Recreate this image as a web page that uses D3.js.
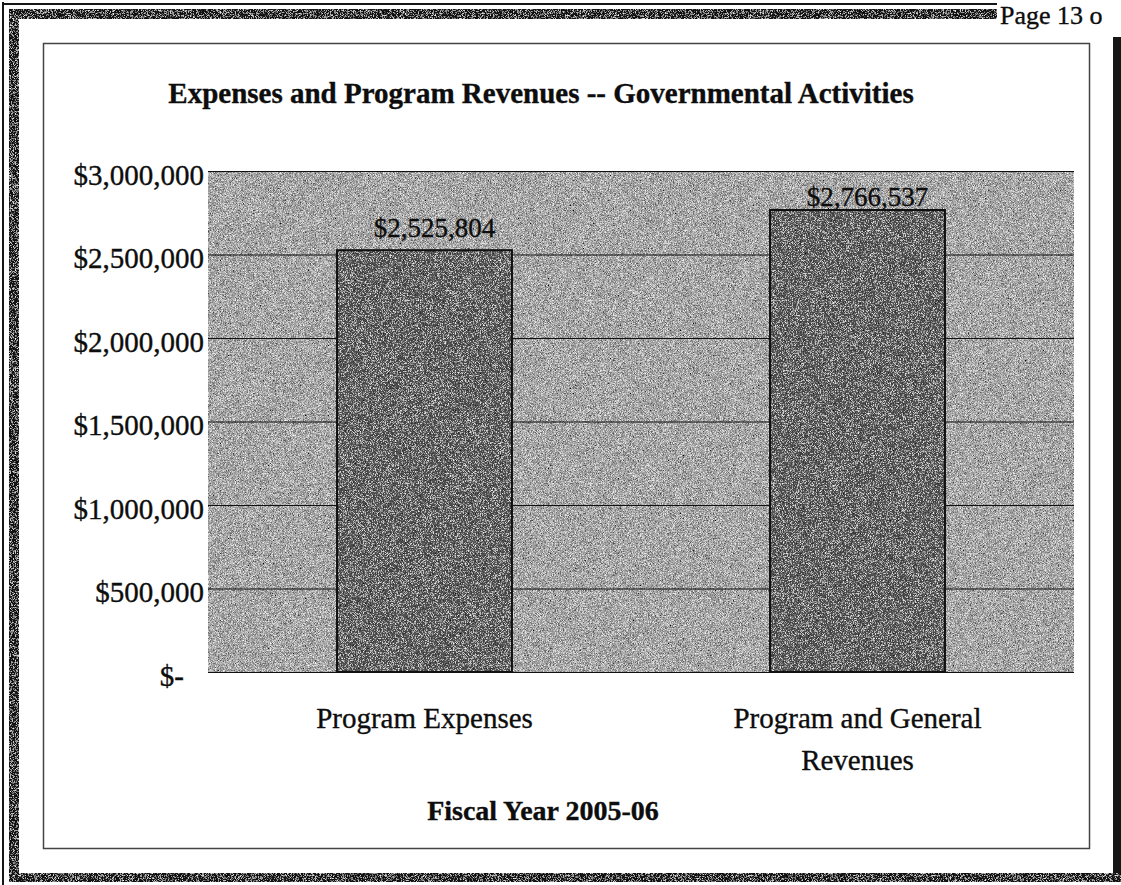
<html>
<head>
    <title>Expenses and Program Revenues</title>
    <style>
        body { margin: 0; background: #fff; }
        svg text { font-family: "Liberation Serif", "Times New Roman", serif; fill: #0d0d0d; stroke: #0d0d0d; stroke-width: 0.35px; }
    </style>
</head>
<body>
    <svg></svg>
    <script src="https://d3js.org/d3.v7.min.js"></script>
    <script>
        // chart values
        const categories = ["Program Expenses", "Program and General Revenues"];
        const categoryLines = [["Program Expenses"], ["Program and General", "Revenues"]];
        const amounts = [2525804, 2766537];
        const amountLabels = ["$2,525,804", "$2,766,537"];
        const yTicks = [0, 500000, 1000000, 1500000, 2000000, 2500000, 3000000];
        const yTickLabels = ["$-", "$500,000", "$1,000,000", "$1,500,000", "$2,000,000", "$2,500,000", "$3,000,000"];
        const chartTitle = "Expenses and Program Revenues -- Governmental Activities";
        const axisTitle = "Fiscal Year 2005-06";
        const pageLabel = "Page 13 o";

        const width = 1121;
        const height = 885;
        const plot = {left: 208, right: 1074, top: 171, bottom: 672};

        const svg = d3.select("svg")
            .attr("width", width)
            .attr("height", height);

        // scanned-paper grain
        const defs = svg.append("defs");
        const grain = defs.append("filter")
            .attr("id", "grain")
            .attr("x", 0).attr("y", 0).attr("width", "100%").attr("height", "100%");
        grain.append("feTurbulence")
            .attr("type", "fractalNoise")
            .attr("baseFrequency", 1.4)
            .attr("numOctaves", 1)
            .attr("seed", 4)
            .attr("result", "noise");
        grain.append("feColorMatrix")
            .attr("in", "noise")
            .attr("type", "matrix")
            .attr("values", "1 0 0 0 0  1 0 0 0 0  1 0 0 0 0  0 0 0 0 1")
            .attr("result", "grey");
        const ct = grain.append("feComponentTransfer").attr("in", "grey").attr("result", "contrast");
        ["feFuncR", "feFuncG", "feFuncB"].forEach(f =>
            ct.append(f).attr("type", "linear").attr("slope", 1.6).attr("intercept", -0.3));
        grain.append("feBlend")
            .attr("in", "SourceGraphic")
            .attr("in2", "contrast")
            .attr("mode", "overlay")
            .attr("result", "blend");
        grain.append("feComposite")
            .attr("in", "blend")
            .attr("in2", "SourceGraphic")
            .attr("operator", "in");

        // page frame
        const frame = svg.append("g").attr("fill", "#161616");
        frame.append("rect").attr("x", 2).attr("y", 2).attr("width", 2).attr("height", 883);
        frame.append("rect").attr("x", 2).attr("y", 3).attr("width", 995).attr("height", 2);
        frame.append("rect").attr("x", 9).attr("y", 9).attr("width", 10).attr("height", 873).attr("filter", "url(#grain)");
        frame.append("rect").attr("x", 9).attr("y", 9).attr("width", 988).attr("height", 10).attr("filter", "url(#grain)");
        frame.append("rect").attr("x", 1113).attr("y", 37).attr("width", 8).attr("height", 845);
        frame.append("rect").attr("x", 9).attr("y", 873).attr("width", 1112).attr("height", 9).attr("filter", "url(#grain)");

        svg.append("text")
            .attr("x", 1000)
            .attr("y", 24)
            .attr("font-size", 26)
            .text(pageLabel);

        // inner chart box
        svg.append("rect")
            .attr("x", 43.5).attr("y", 43.5)
            .attr("width", 1046).attr("height", 805)
            .attr("fill", "none")
            .attr("stroke", "#444")
            .attr("stroke-width", 1.5);

        // scales
        const x = d3.scaleBand()
            .domain(categories)
            .range([plot.left, plot.right])
            .paddingInner(0.596)
            .paddingOuter(0.298);

        const y = d3.scaleLinear()
            .domain([0, 3000000])
            .range([plot.bottom, plot.top]);

        // plot background
        svg.append("rect")
            .attr("x", plot.left)
            .attr("y", plot.top)
            .attr("width", plot.right - plot.left)
            .attr("height", plot.bottom - plot.top)
            .attr("fill", "#a4a4a4")
            .attr("filter", "url(#grain)");

        // gridlines
        svg.append("g")
            .attr("transform", `translate(${plot.left},0)`)
            .call(d3.axisLeft(y).tickValues(yTicks).tickSize(-(plot.right - plot.left)).tickFormat(""))
            .call(g => g.select(".domain").remove())
            .call(g => g.selectAll(".tick line").attr("stroke", "#111").attr("stroke-width", 1.2));

        // y labels
        svg.append("g")
            .attr("transform", `translate(${plot.left},0)`)
            .call(d3.axisLeft(y).tickValues(yTicks).tickSize(0).tickPadding(4)
                .tickFormat((d, i) => yTickLabels[i]))
            .call(g => g.select(".domain").remove())
            .call(g => g.selectAll(".tick text")
                .attr("font-size", 29)
                .attr("fill", "#0d0d0d")
                .attr("dy", "0.45em")
                .attr("dx", d => d === 0 ? -20 : 0));

        // bars
        svg.append("g")
            .selectAll("rect")
            .data(amounts)
            .join("rect")
            .attr("x", (d, i) => x(categories[i]))
            .attr("y", d => y(d))
            .attr("width", x.bandwidth())
            .attr("height", d => y(0) - y(d))
            .attr("fill", "#565656")
            .attr("filter", "url(#grain)");

        svg.append("g")
            .selectAll("rect")
            .data(amounts)
            .join("rect")
            .attr("x", (d, i) => x(categories[i]))
            .attr("y", d => y(d))
            .attr("width", x.bandwidth())
            .attr("height", d => y(0) - y(d))
            .attr("fill", "none")
            .attr("stroke", "#111")
            .attr("stroke-width", 2);

        // value labels
        svg.append("g")
            .selectAll("text")
            .data(amounts)
            .join("text")
            .attr("x", (d, i) => x(categories[i]) + x.bandwidth() / 2 + 10)
            .attr("y", (d, i) => y(d) - (i === 0 ? 13 : 4))
            .attr("text-anchor", "middle")
            .attr("font-size", 27)
            .text((d, i) => amountLabels[i]);

        // category labels
        const catLabels = svg.append("g")
            .selectAll("text")
            .data(categories)
            .join("text")
            .attr("x", d => x(d) + x.bandwidth() / 2)
            .attr("y", 728)
            .attr("text-anchor", "middle")
            .attr("font-size", 29);
        catLabels.selectAll("tspan")
            .data((d, i) => categoryLines[i])
            .join("tspan")
            .attr("x", function() { return this.parentNode.getAttribute("x"); })
            .attr("dy", (d, i) => i === 0 ? 0 : 42)
            .text(d => d);

        // titles
        svg.append("text")
            .attr("x", 541)
            .attr("y", 103)
            .attr("text-anchor", "middle")
            .attr("font-size", 29)
            .attr("font-weight", "bold")
            .attr("stroke-width", 0)
            .text(chartTitle);

        svg.append("text")
            .attr("x", 543)
            .attr("y", 820)
            .attr("text-anchor", "middle")
            .attr("font-size", 28)
            .attr("font-weight", "bold")
            .attr("stroke-width", 0)
            .text(axisTitle);
    </script>
</body>
</html>
